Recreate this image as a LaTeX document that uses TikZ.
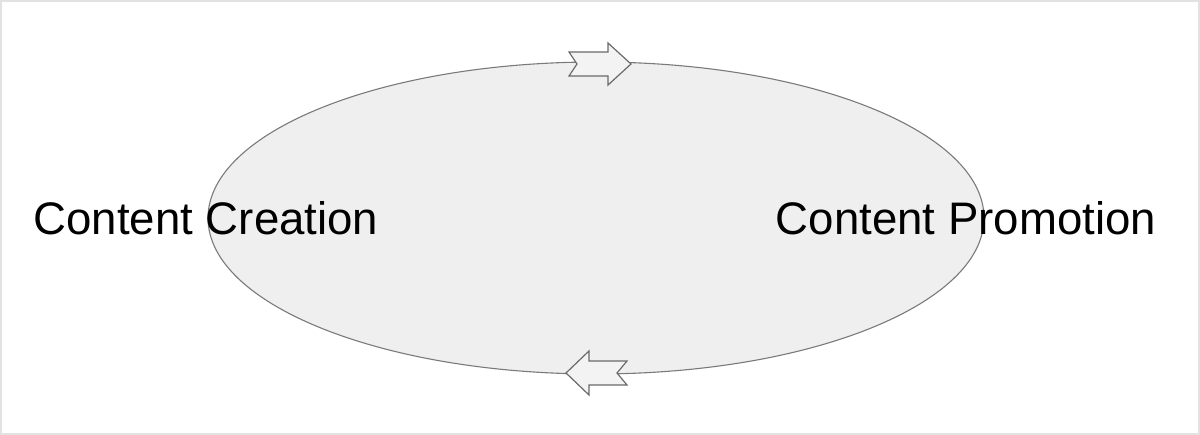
\documentclass[tikz,border=0pt]{standalone}
\usepackage{fontspec}
\usetikzlibrary{shapes.geometric}
\setmainfont{Liberation Sans}
\definecolor{ellfill}{HTML}{EFEFEF}
\definecolor{ellline}{HTML}{7A7A7A}
\definecolor{arrfill}{HTML}{F3F3F3}
\definecolor{arrline}{HTML}{6A6A6A}
\definecolor{frame}{HTML}{E2E2E2}
\begin{document}
\begin{tikzpicture}[x=1pt,y=-1pt,
  lbl/.style={font=\fontsize{45.6}{54}\selectfont, text=black, inner sep=0pt, anchor=center},
  blockarrow/.style={draw=arrline, fill=arrfill, line width=1.2pt, line join=miter}]
\useasboundingbox (0,0) rectangle (1200,435);
\draw[frame, line width=2pt] (1,1) rectangle (1199,434);
\node[draw=ellline, fill=ellfill, line width=1.1pt, ellipse, minimum width=776pt, minimum height=312pt, inner sep=0pt] (cycle) at (596,218) {};
\draw[blockarrow] (569,52) -- (608,52) -- (608,43) -- (631,64) -- (608,85) -- (608,76) -- (569,76) -- (577,64) -- cycle;
\draw[blockarrow] (566,373) -- (589,351) -- (589,361) -- (627,361) -- (617,373) -- (627,385) -- (589,385) -- (589,395) -- cycle;
\node[lbl] (creation) at (206,218) {Content Creation};
\node[lbl] (promotion) at (966,218) {Content Promotion};
\end{tikzpicture}
\end{document}
